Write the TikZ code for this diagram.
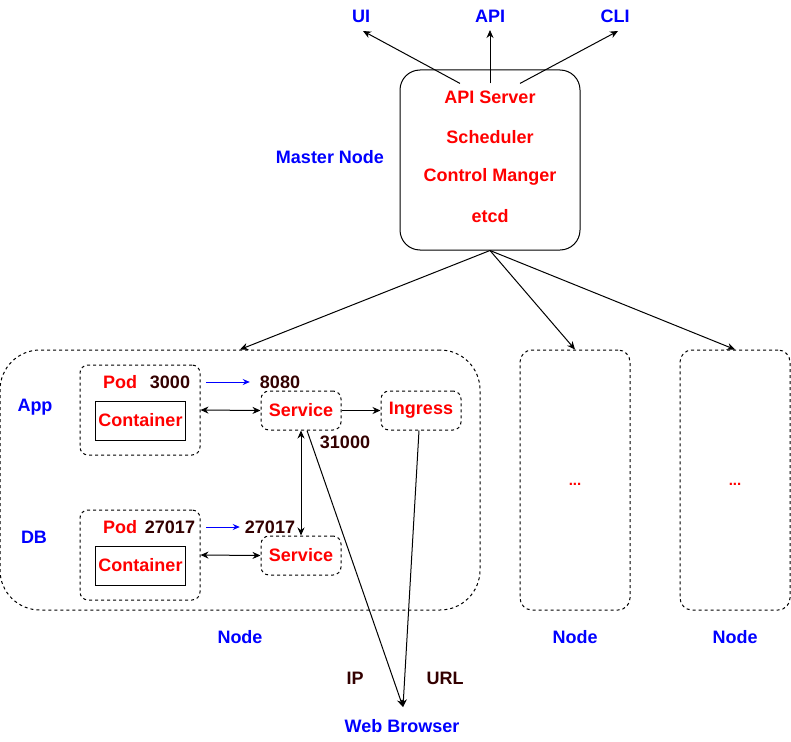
\documentclass[tikz,border=0pt]{standalone}
\usepackage{fontspec}
\setmainfont{Liberation Sans}
\usetikzlibrary{arrows.meta}
\definecolor{dkred}{HTML}{330000}
\begin{document}
\begin{tikzpicture}[x=1pt,y=-1pt,
  every node/.style={font=\bfseries\fontsize{18}{21}\selectfont, inner sep=3pt},
  blue lbl/.style={text=blue},
  red lbl/.style={text=red},
  num/.style={text=dkred},
  dbox/.style={draw, dash pattern=on 3pt off 3pt, rounded corners=#1, line width=1pt},
  dbox/.default=8pt,
  arr/.style={line width=1pt, -{Stealth[length=8pt,width=7pt]}},
  darr/.style={line width=1pt, {Stealth[length=8pt,width=7pt]}-{Stealth[length=8pt,width=7pt]}},
  barr/.style={line width=1pt, draw=blue, -{Stealth[length=7pt,width=6pt]}}
]
\useasboundingbox (0,0) rectangle (791,741);

% top labels
\node[blue lbl] (ui) at (361,16) {UI};
\node[blue lbl] (api) at (490,16) {API};
\node[blue lbl] (cli) at (615,16) {CLI};

% master
\node[draw, line width=1pt, rounded corners=20pt, minimum width=180pt, minimum height=180pt] (master) at (490,160) {};
\node[red lbl, inner sep=2pt] (apis) at (490,97) {API Server};
\node[red lbl] (sched) at (490,137) {Scheduler};
\node[red lbl] (ctrl) at (490,177) {Control Manger};
\node[red lbl] (etcd) at (490,216) {etcd};
\node[blue lbl] (mlabel) at (330,157) {Master Node};

\coordinate (uitip) at (363,31);
\coordinate (apitip) at (490,30);
\coordinate (clitip) at (618,31);
\draw[arr] ([xshift=-30pt,yshift=5pt]apis.north) -- (uitip);
\draw[arr] ([yshift=5pt]apis.north) -- (apitip);
\draw[arr] ([xshift=30pt,yshift=5pt]apis.north) -- (clitip);

% worker nodes
\node[dbox=40pt, minimum width=480pt, minimum height=260pt] (node1) at (240,480) {};
\node[dbox=12pt, minimum width=110pt, minimum height=260pt] (node2) at (575,480) {};
\node[dbox=12pt, minimum width=110pt, minimum height=260pt] (node3) at (735,480) {};
\node[text=red, font=\bfseries\fontsize{15}{17}\selectfont] (dots2) at (575,484) {...};
\node[text=red, font=\bfseries\fontsize{15}{17}\selectfont] (dots3) at (735,484) {...};
\node[blue lbl] (n1lbl) at (240,637) {Node};
\node[blue lbl] (n2lbl) at (575,637) {Node};
\node[blue lbl] (n3lbl) at (735,637) {Node};

\draw[arr] (master.south) -- (node1.north);
\draw[arr] (master.south) -- (node2.north);
\draw[arr] (master.south) -- (node3.north);

% App
\node[blue lbl] (app) at (35,407) {App};
\node[dbox, minimum width=120pt, minimum height=90pt] (podA) at (140,410) {};
\node[red lbl] (podAl) at (120,382) {Pod};
\node[num] (p3000) at (170,382) {3000};
\node[draw, line width=1pt, minimum width=89pt, minimum height=39pt, red lbl] (contA) at (140.5,420.5) {Container};
\node[num] (p8080) at (280,382) {8080};
\draw[barr, shorten <=13pt, shorten >=7pt] (p3000.east) -- (p8080.west);
\node[dbox, minimum width=80pt, minimum height=39pt, red lbl] (svcA) at (301,410.5) {Service};
\node[dbox, minimum width=80pt, minimum height=39pt, red lbl] (ing) at (421,410.5) {Ingress};
\node[num] (p31000) at (345,442) {31000};
\draw[darr] (podA.east) -- (svcA.west);
\draw[arr] (svcA.east) -- (ing.west);

% DB
\node[blue lbl] (db) at (34,537) {DB};
\node[dbox, minimum width=120pt, minimum height=90pt] (podB) at (140,555) {};
\node[red lbl] (podBl) at (120,527) {Pod};
\node[num] (p27017a) at (170,527) {27017};
\node[draw, line width=1pt, minimum width=89pt, minimum height=39pt, red lbl] (contB) at (140.5,565.5) {Container};
\node[num] (p27017b) at (270,527) {27017};
\draw[barr, shorten <=8pt, shorten >=2pt] (p27017a.east) -- (p27017b.west);
\node[dbox, minimum width=80pt, minimum height=39pt, red lbl] (svcB) at (301,555.5) {Service};
\draw[darr] (podB.east) -- (svcB.west);
\draw[darr] (svcA.south) -- (svcB.north);

% web browser
\node[blue lbl] (web) at (402,726) {Web Browser};
\node[num] (ip) at (355,678) {IP};
\node[num] (url) at (445,678) {URL};
\coordinate (webtip) at (403,707);
\draw[arr] ([xshift=6pt]svcA.south) -- (webtip);
\draw[arr] ([xshift=-2pt]ing.south) -- (webtip);
\end{tikzpicture}
\end{document}
